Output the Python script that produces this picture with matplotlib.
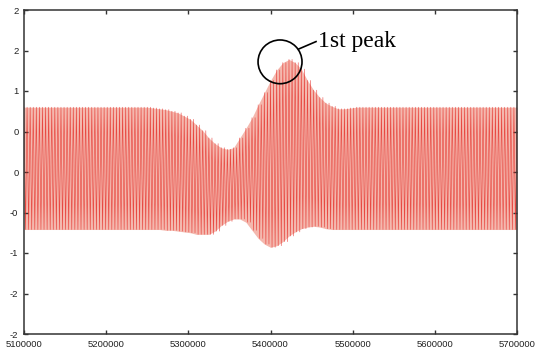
import matplotlib
matplotlib.use("Agg")
import matplotlib.pyplot as plt
import numpy as np
from matplotlib.patches import Ellipse
from matplotlib.ticker import FormatStrFormatter

# envelope of the oscillating signal, one value per sample step of 7500
x_start = 5100000
x_step = 7500
upper = [0.80] * 21 + [
    0.79, 0.78, 0.77, 0.75, 0.73, 0.69, 0.65, 0.58, 0.51, 0.42,
    0.35, 0.30, 0.28, 0.30, 0.42, 0.54, 0.67, 0.83, 0.98, 1.13,
    1.26, 1.35, 1.39, 1.35, 1.27, 1.13, 1.01, 0.92, 0.85, 0.81,
    0.78, 0.78, 0.79,
] + [0.80] * 27
lower = [-0.71] * 23 + [
    -0.72, -0.72, -0.73, -0.74, -0.75, -0.77, -0.77, -0.77, -0.73, -0.66,
    -0.61, -0.58, -0.58, -0.62, -0.72, -0.82, -0.89, -0.93, -0.91, -0.86,
    -0.79, -0.74, -0.70, -0.68, -0.67, -0.68, -0.70,
] + [-0.71] * 31

x_ticks = [5100000, 5200000, 5300000, 5400000, 5500000, 5600000, 5700000]
y_ticks = [-2, -1.5, -1, -0.5, 0, 0.5, 1, 1.5, 2]
peak_x, peak_y = 5411600, 1.36

xs = x_start + x_step * np.arange(len(upper))
# fast carrier: two crest/trough pairs inside each envelope sample
offsets = np.array([0, 0.25, 0.5, 0.75]) * x_step
path_x = (xs[:, None] + offsets).ravel()
path_y = np.column_stack([upper, lower, upper, lower]).ravel()

fig = plt.figure(figsize=(5.35, 3.56), dpi=100)
ax = fig.add_axes([24 / 535, 22 / 356, 493 / 535, 324 / 356])
ax.fill_between(xs, lower, upper, color="#f4b8ae", linewidth=0)
ax.plot(path_x, path_y, color="#e4231d", linewidth=0.45, alpha=0.75)

ax.set_xlim(5100000, 5700000)
ax.set_ylim(-2, 2)
ax.set_xticks(x_ticks)
ax.set_yticks(y_ticks)
ax.xaxis.set_major_formatter(FormatStrFormatter("%d"))
ax.yaxis.set_major_formatter(FormatStrFormatter("%.0f"))
ax.tick_params(direction="in", length=3, width=1, color="#333333",
               top=True, right=True, labelsize=6.8, labelcolor="#222222")
ax.tick_params(axis="x", pad=4)
ax.tick_params(axis="y", pad=4)
for label in ax.get_xticklabels() + ax.get_yticklabels():
    label.set_family("Liberation Sans")
for spine in ax.spines.values():
    spine.set_color("#333333")
    spine.set_linewidth(1.1)

ax.add_patch(Ellipse((peak_x, peak_y), 53500, 0.54, fill=False,
                     edgecolor="black", linewidth=1.2, zorder=5))
ax.plot([5434700, 5455400], [1.52, 1.61], color="black", linewidth=1.2, zorder=5)
ax.text(5457800, 1.61, "1st peak", family="Liberation Serif", fontsize=17,
        ha="left", va="center", zorder=6)

fig.savefig("out.png", dpi=100, facecolor="white")
